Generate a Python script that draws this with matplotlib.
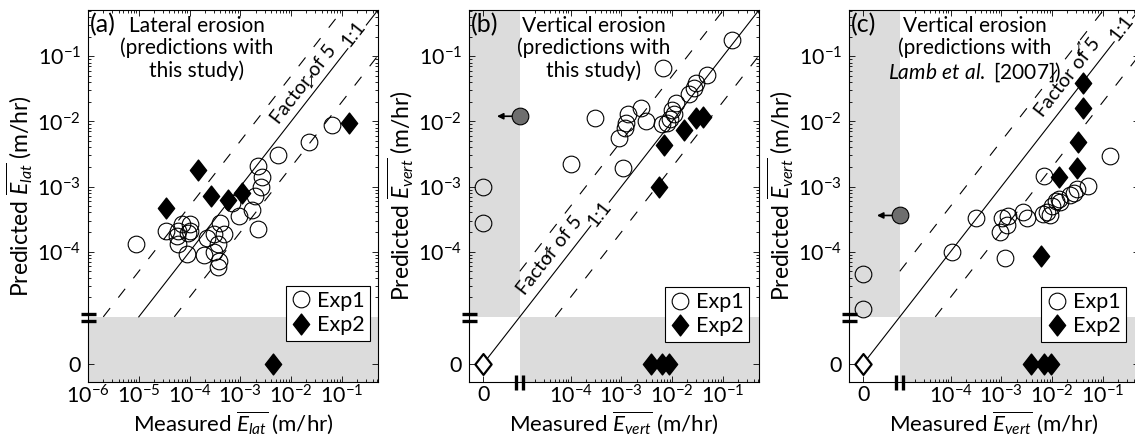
import numpy as np
import matplotlib
matplotlib.use('Agg')
import matplotlib.pyplot as plt
from matplotlib.ticker import FixedLocator, FixedFormatter, NullFormatter
from matplotlib.lines import Line2D
from matplotlib.path import Path

plt.rcParams['font.family'] = ['Lato', 'DejaVu Sans']
plt.rcParams['mathtext.fontset'] = 'custom'
plt.rcParams['mathtext.rm'] = 'Lato'
plt.rcParams['mathtext.it'] = 'Lato:italic'
plt.rcParams['mathtext.bf'] = 'Lato:bold'

# axis layout (log units); a value of 0 is drawn at ZERO below the axis break
LO, HI = 1e-6, 10 ** -0.29
BREAK = 1e-5
ZERO = 10 ** -5.72

# ---- panel (a): lateral erosion, this study ----
a_exp1_meas = [8.9e-6, 3.5e-5, 5.9e-5, 7.2e-5, 1.0e-4, 9.5e-5, 5.9e-5, 8.9e-5, 2.2e-4,
               4.0e-4, 4.7e-4, 3.7e-4, 3.0e-4, 1.9e-4, 3.8e-4, 3.6e-4, 6.8e-4, 9.2e-4,
               1.7e-3, 1.9e-3, 2.5e-3, 2.65e-3, 2.2e-3, 2.2e-3, 5.6e-3, 2.2e-2, 6.5e-2,
               5.6e-5, 1.0e-4, 3.0e-4]
a_exp1_pred = [1.3e-4, 2.1e-4, 2.1e-4, 2.7e-4, 2.7e-4, 1.95e-4, 1.3e-4, 9.1e-5, 1.65e-4,
               2.8e-4, 1.85e-4, 1.3e-4, 9.8e-5, 8.9e-5, 7.1e-5, 5.9e-5, 5.6e-4, 3.5e-4,
               4.3e-4, 7.2e-4, 9.8e-4, 1.4e-3, 2.1e-3, 2.2e-4, 3.1e-3, 4.9e-3, 8.9e-3,
               1.75e-4, 2.1e-4, 1.85e-4]
a_exp2_meas = [3.5e-5, 1.45e-4, 2.6e-4, 5.6e-4, 1.1e-3, 0.14, 4.4e-3]
a_exp2_pred = [4.7e-4, 1.8e-3, 7.1e-4, 6.3e-4, 7.9e-4, 9.3e-3, 0]

# ---- panel (b): vertical erosion, this study ----
b_exp1_meas = [0.15, 6.7e-3, 4.8e-2, 2.9e-2, 2.7e-2, 2.1e-2, 1.2e-2, 1.0e-2, 1.1e-2,
               9.1e-3, 8.0e-3, 6.4e-3, 3.0e-3, 2.45e-3, 1.33e-3, 1.26e-3, 1.2e-3, 8.9e-4,
               3.05e-4, 1.02e-4, 1.1e-3, 0, 0]
b_exp1_pred = [0.18, 6.6e-2, 5.2e-2, 3.9e-2, 3.3e-2, 2.6e-2, 1.9e-2, 1.5e-2, 1.3e-2,
               1.1e-2, 9.5e-3, 9.0e-3, 1.0e-2, 1.6e-2, 1.3e-2, 9.5e-3, 8.0e-3, 5.5e-3,
               1.14e-2, 2.2e-3, 1.9e-3, 1.0e-3, 2.8e-4]
b_exp2_meas = [6.9e-3, 1.7e-2, 3.0e-2, 4.0e-2, 5.6e-3, 3.75e-3, 6.3e-3, 8.5e-3]
b_exp2_pred = [4.4e-3, 7.3e-3, 1.13e-2, 1.17e-2, 1.0e-3, 0, 0, 0]
b_offscale_pred = 1.2e-2   # predicted value whose measured rate is below the axis

# ---- panel (c): vertical erosion, Lamb et al. [2007] ----
c_exp1_meas = [3.2e-4, 1.09e-4, 1.2e-3, 9.3e-4, 1.3e-3, 1.35e-3, 2.7e-3, 3.2e-3, 6.9e-3,
               6.6e-3, 9.1e-3, 1.0e-2, 1.17e-2, 1.36e-2, 2.25e-2, 3.15e-2, 5.0e-2, 0.14,
               8.0e-3, 2.7e-2, 1.43e-2, 1.03e-3, 0, 0]
c_exp1_pred = [3.3e-4, 1.0e-4, 8.1e-5, 2.0e-4, 2.6e-4, 3.5e-4, 4.0e-4, 3.3e-4, 1.45e-3,
               3.8e-4, 3.7e-4, 5.0e-4, 5.9e-4, 6.4e-4, 7.4e-4, 9.1e-4, 1.02e-3, 2.9e-3,
               4.0e-4, 8.1e-4, 5.7e-4, 3.3e-4, 4.6e-5, 1.3e-5]
c_exp2_meas = [4.0e-2, 4.0e-2, 3.25e-2, 3.15e-2, 1.36e-2, 6.1e-3, 3.9e-3, 6.9e-3, 9.3e-3]
c_exp2_pred = [3.9e-2, 1.58e-2, 4.9e-3, 1.9e-3, 1.4e-3, 8.6e-5, 0, 0, 0]
c_offscale_pred = 3.6e-4

W, H = 1135, 446
GRAY = '#dcdcdc'
DIAMOND = Path([(0, 1), (0.78, 0), (0, -1), (-0.78, 0), (0, 1)],
               [Path.MOVETO, Path.LINETO, Path.LINETO, Path.LINETO, Path.CLOSEPOLY])

sup = lambda e: r'$\mathdefault{10^{%d}}$' % e


def z(v):
    v = np.asarray(v, dtype=float)
    return np.where(v == 0, ZERO, v)


def frac(v):
    return (np.log10(v) - np.log10(LO)) / (np.log10(HI) - np.log10(LO))


def panel(ax, x1, y1, x2, y2, zero_x, offscale, letter, title, sub, fac_pos, one_pos,
          fac_arrow, leg_anchor):
    ax.set_xscale('log')
    ax.set_yscale('log')
    ax.set_xlim(LO, HI)
    ax.set_ylim(LO, HI)

    if zero_x:
        ax.fill_between([LO, BREAK], BREAK, HI, color=GRAY, lw=0, zorder=0)
        ax.fill_between([BREAK, HI], LO, BREAK, color=GRAY, lw=0, zorder=0)
    else:
        ax.fill_between([LO, HI], LO, BREAK, color=GRAY, lw=0, zorder=0)

    # 1:1 and factor-of-5 lines
    x0 = ZERO if zero_x else BREAK
    xmin = BREAK if zero_x else LO
    ax.plot([x0, HI], [x0, HI], color='k', lw=0.8, zorder=1)
    ax.plot([max(xmin, BREAK / 5), HI / 5], [max(xmin, BREAK / 5) * 5, HI], color='k',
            lw=0.8, ls=(0, (10, 12)), zorder=1)
    ax.plot([max(xmin, BREAK * 5), HI], [max(xmin, BREAK * 5) / 5, HI / 5], color='k',
            lw=0.8, ls=(0, (10, 12)), zorder=1)

    ax.text(fac_pos[0], fac_pos[1], 'Factor of 5', rotation=52, ha='center', va='center',
            fontsize=14, zorder=2)
    ax.annotate('', xy=(fac_arrow[0], fac_arrow[1]), xytext=(fac_arrow[0], fac_arrow[2]),
                arrowprops=dict(arrowstyle='<->', color='k', lw=0.6, mutation_scale=5,
                                shrinkA=0, shrinkB=0), zorder=2)
    ax.text(one_pos[0], one_pos[1], '1:1', rotation=52, ha='center', va='center', fontsize=14,
            zorder=2, bbox=dict(facecolor='white', edgecolor='none', pad=0.5))

    ax.plot(z(x2), z(y2), ls='none', marker=DIAMOND, ms=15, mfc='k', mec='k', zorder=3)
    ax.plot(z(x1), z(y1), ls='none', marker='o', ms=12, mfc='none', mec='k', mew=0.8, zorder=4)

    if zero_x:
        ax.plot([ZERO], [ZERO], ls='none', marker=DIAMOND, ms=15, mfc='white', mec='k',
                mew=1.6, zorder=5, clip_on=False)
        ax.annotate('', xy=(10 ** -5.45, offscale), xytext=(BREAK, offscale),
                    arrowprops=dict(arrowstyle='-|>', color='k', lw=1.2, mutation_scale=9,
                                    shrinkA=0, shrinkB=0), zorder=5)
        ax.plot([BREAK], [offscale], ls='none', marker='o', ms=12, mfc='#6e6e6e', mec='k',
                mew=0.8, zorder=6)

    # ticks
    ax.tick_params(which='both', direction='in', top=True, right=True, labelsize=15.5,
                   width=0.6)
    ax.tick_params(which='major', length=4)
    ax.tick_params(which='minor', length=2.2)
    ydec = [-4, -3, -2, -1]
    ax.yaxis.set_major_locator(FixedLocator([ZERO] + [10.0 ** e for e in ydec]))
    ax.yaxis.set_major_formatter(FixedFormatter(['0'] + [sup(e) for e in ydec]))
    ax.yaxis.set_minor_locator(FixedLocator([k * 10.0 ** e for e in range(-5, 0)
                                             for k in range(2, 10)]))
    if zero_x:
        xdec = [-4, -3, -2, -1]
        ax.xaxis.set_major_locator(FixedLocator([ZERO] + [10.0 ** e for e in xdec]))
        ax.xaxis.set_major_formatter(FixedFormatter(['0'] + [sup(e) for e in xdec]))
        ax.xaxis.set_minor_locator(FixedLocator([k * 10.0 ** e for e in range(-5, 0)
                                                 for k in range(2, 10)]))
    else:
        xdec = [-6, -5, -4, -3, -2, -1]
        ax.xaxis.set_major_locator(FixedLocator([10.0 ** e for e in xdec]))
        ax.xaxis.set_major_formatter(FixedFormatter([sup(e) for e in xdec]))
        ax.xaxis.set_minor_locator(FixedLocator([k * 10.0 ** e for e in range(-6, 0)
                                                 for k in range(2, 10)]))
    ax.xaxis.set_minor_formatter(NullFormatter())
    ax.yaxis.set_minor_formatter(NullFormatter())
    ax.tick_params(axis='x', pad=2)
    ax.tick_params(axis='y', pad=5)
    for s in ax.spines.values():
        s.set_linewidth(0.8)

    # axis-break marks
    bw = ax.get_position().width * W
    bh = ax.get_position().height * H
    yb = frac(BREAK)
    for dy in (-4.2, 3.2):
        ax.plot([-7.5 / bw, 7.5 / bw], [yb + dy / bh, yb + dy / bh], color='k', lw=2.4,
                transform=ax.transAxes, clip_on=False, solid_capstyle='butt', zorder=7)
    if zero_x:
        xb = frac(BREAK)
        for dx in (-3.6, 3.6):
            ax.plot([xb + dx / bw, xb + dx / bw], [-8 / bh, 7 / bh], color='k', lw=2.4,
                    transform=ax.transAxes, clip_on=False, solid_capstyle='butt', zorder=7)

    ax.set_xlabel(r'Measured $\overline{E_{%s}}$ (m/hr)' % sub, fontsize=16, labelpad=1)
    ax.set_ylabel(r'Predicted $\overline{E_{%s}}$ (m/hr)' % sub, fontsize=16.5, labelpad=2)

    ax.text(0.008, 0.96, letter, transform=ax.transAxes, fontsize=18, ha='left', va='center')
    ax.text(title[0], 0.985, title[1], transform=ax.transAxes, fontsize=15, ha='center',
            va='top', linespacing=1.12)

    h1 = Line2D([], [], ls='none', marker='o', ms=12, mfc='none', mec='k', mew=0.8)
    h2 = Line2D([], [], ls='none', marker=DIAMOND, ms=15, mfc='k', mec='k')
    leg = ax.legend([h1, h2], ['Exp1', 'Exp2'], loc='lower right', bbox_to_anchor=leg_anchor,
                    borderaxespad=0, fontsize=15.5, fancybox=False, framealpha=1,
                    edgecolor='k', handlelength=0.9, handletextpad=0.3, borderpad=0.25,
                    labelspacing=0.2)
    leg.get_frame().set_linewidth(0.8)
    leg.set_zorder(8)


fig = plt.figure(figsize=(W / 100, H / 100), dpi=100)
lefts = [88, 469, 849]
axes = [fig.add_axes([l / W, (H - 382) / H, 290 / W, 372 / H]) for l in lefts]

panel(axes[0], a_exp1_meas, a_exp1_pred, a_exp2_meas, a_exp2_pred, False, None, '(a)',
      (0.375, 'Lateral erosion\n(predictions with\nthis study)'), 'lat',
      (10 ** -1.76, 10 ** -1.43), (10 ** -0.77, 10 ** -0.66),
      (10 ** -1.6, 10 ** -1.27, 10 ** -1.5), (0.973, 0.111))
panel(axes[1], b_exp1_meas, b_exp1_pred, b_exp2_meas, b_exp2_pred, True, b_offscale_pred, '(b)',
      (0.43, 'Vertical erosion\n(predictions with\nthis study)'), 'vert',
      (10 ** -4.41, 10 ** -4.06), (10 ** -3.42, 10 ** -3.42),
      (10 ** -4.47, 10 ** -3.91, 10 ** -4.11), (0.967, 0.108))
panel(axes[2], c_exp1_meas, c_exp1_pred, c_exp2_meas, c_exp2_pred, True, c_offscale_pred, '(c)',
      (0.434, 'Vertical erosion\n(predictions with\n' + r'$\mathit{Lamb\ et\ al.}$ [2007])'),
      'vert', (10 ** -1.70, 10 ** -1.33), (10 ** -0.64, 10 ** -0.57),
      (10 ** -1.475, 10 ** -0.76, 10 ** -1.0), (0.954, 0.108))

fig.savefig('out.png', dpi=100)
